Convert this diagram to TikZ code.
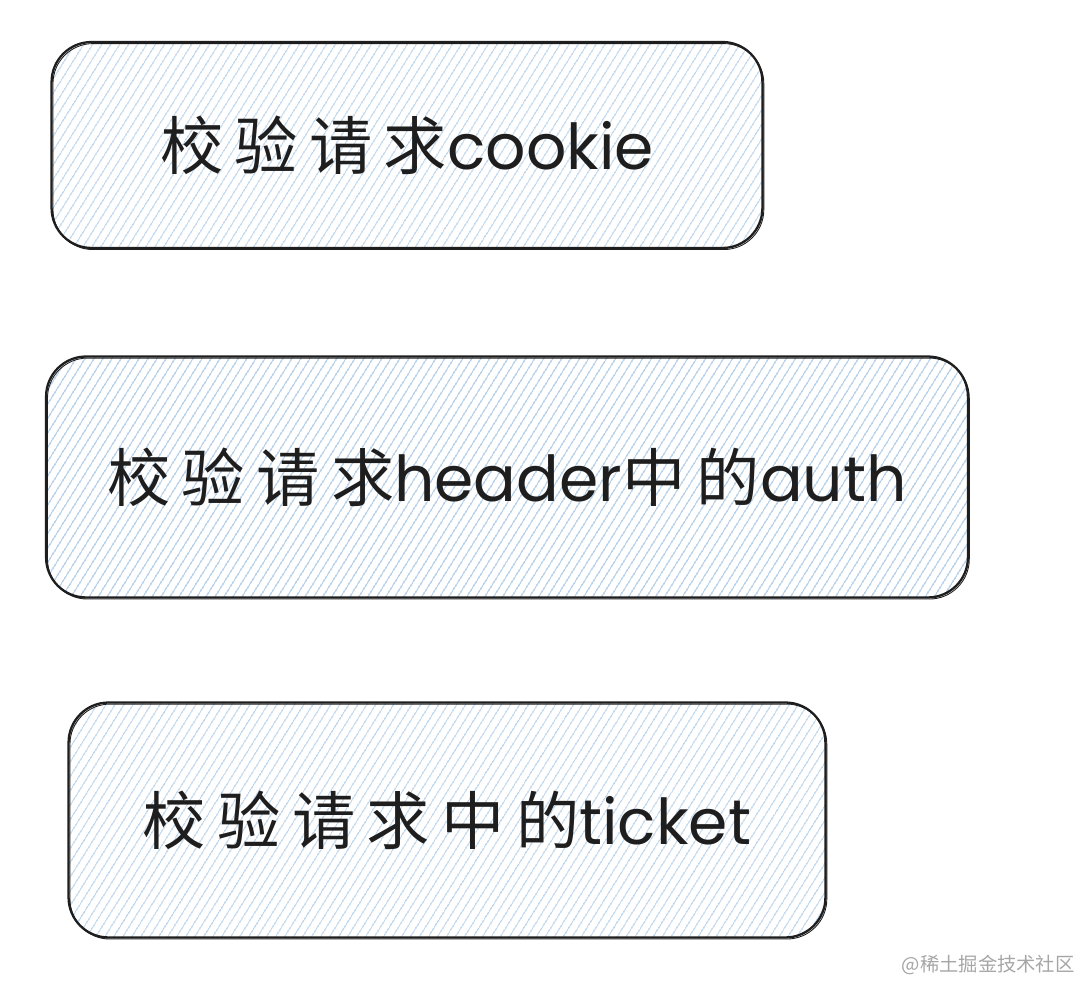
\documentclass[tikz,border=0pt]{standalone}
\usepackage{fontspec}
\setmainfont{Poppins}
\newfontfamily\cjk[LetterSpace=18]{Noto Sans CJK SC}
\newfontfamily\markfont{Noto Sans CJK SC}
\usepackage{tikz}
\usetikzlibrary{patterns.meta}
\definecolor{hatchblue}{RGB}{150,188,222}
\definecolor{inkblack}{RGB}{30,30,30}

\begin{document}
\begin{tikzpicture}[x=0.02cm,y=-0.02cm]
        % one unit = one pixel of the sketch
        \tikzstyle{every node}=[inner sep=0pt]
        \tikzstyle{hatchbox}=[rectangle, rounded corners=0.8cm, draw=inkblack, line width=1.3pt,
                pattern={Lines[angle=58,distance=4pt,line width=0.6pt]}, pattern color=hatchblue,
                postaction={draw=inkblack, line width=0.5pt, transform canvas={shift={(0.8pt,-0.9pt)}}},
                text=inkblack, font=\fontsize{36}{42}\selectfont]
        \useasboundingbox (0,0) rectangle (1080,982);

        \node[hatchbox, minimum width=14.22cm, minimum height=4.12cm] (cookie) at (407,145) {{\cjk 校验请求}cookie};

        \node[hatchbox, minimum width=18.44cm, minimum height=4.82cm] (auth) at (507,477) {{\cjk 校验请求}header{\cjk 中的}auth};

        \node[hatchbox, minimum width=15.14cm, minimum height=4.7cm] (ticket) at (447,820) {{\cjk 校验请求中的}ticket};

        \node[anchor=east, text=black!35, font=\markfont\fontsize{11}{13}\selectfont] (mark) at (1075,965) {@稀土掘金技术社区};
\end{tikzpicture}
\end{document}
